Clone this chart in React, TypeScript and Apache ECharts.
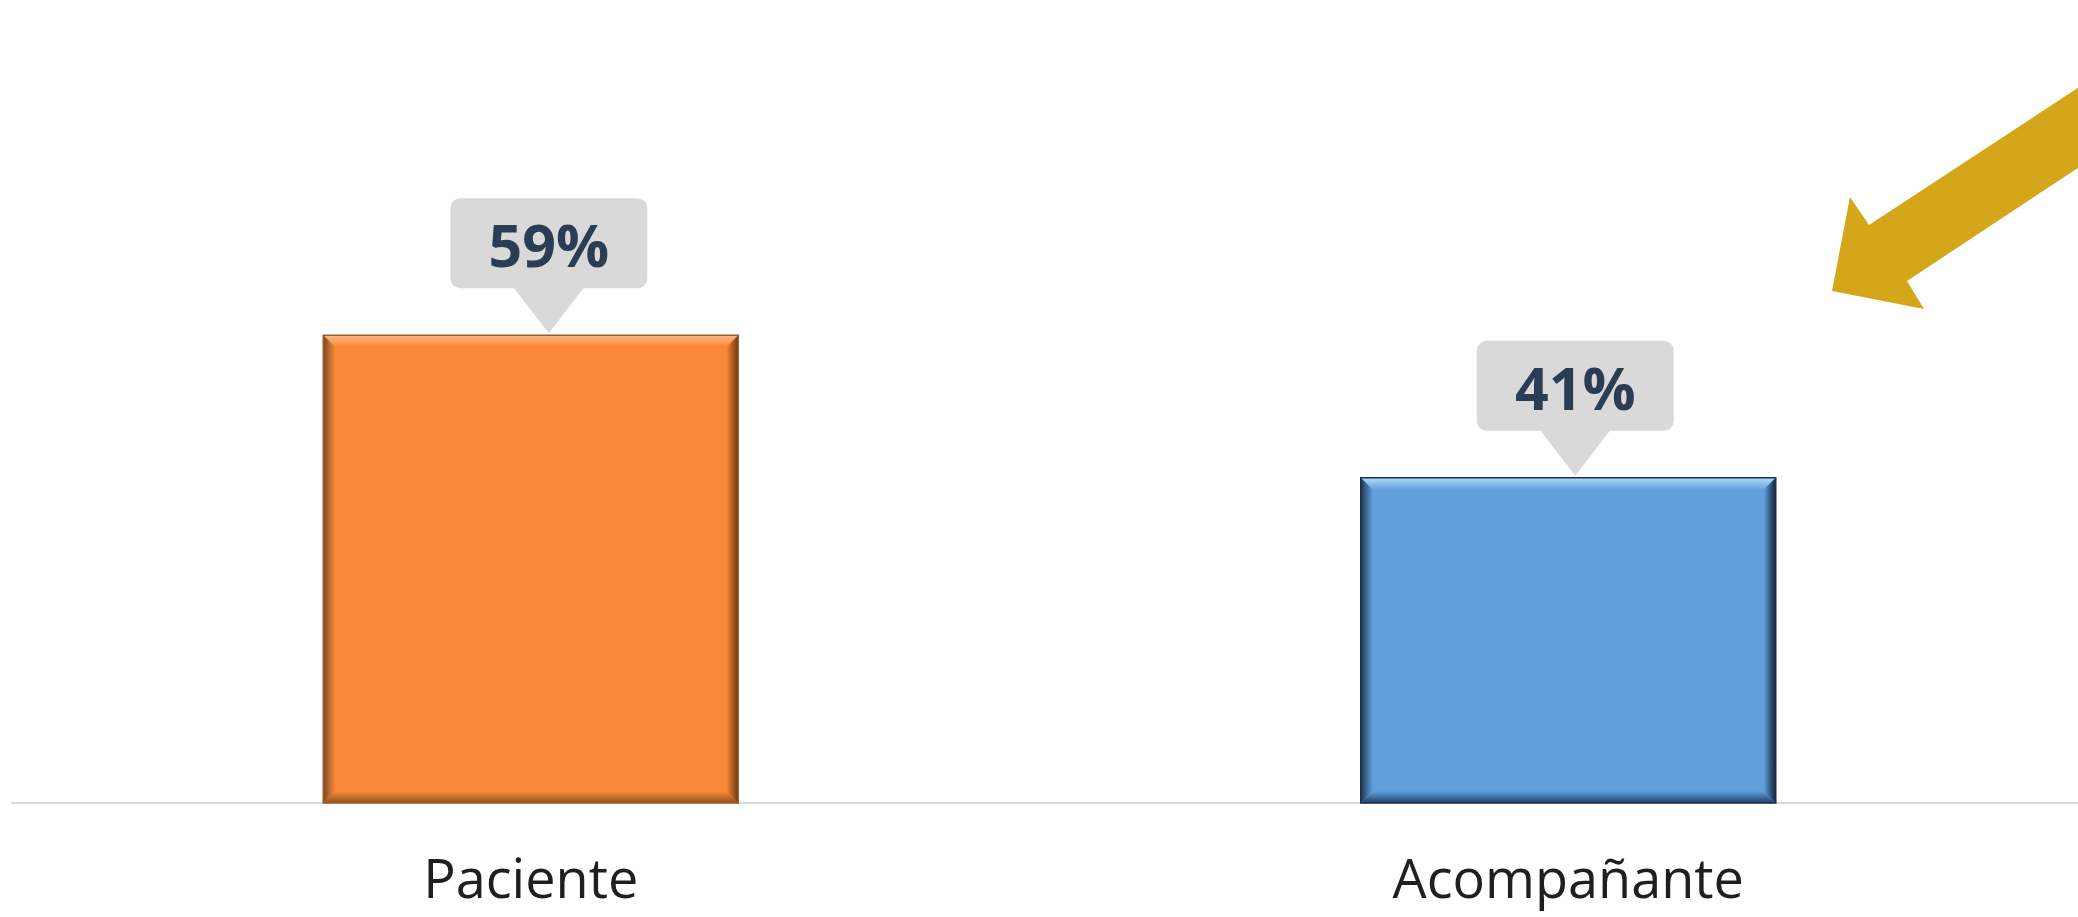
import React, { useEffect, useRef } from "react";
import * as echarts from "echarts";

const categories = ["Paciente", "Acompañante"];
const values = [59, 41];
const valueLabels = ["59%", "41%"];

const palettes = [
  { main: "#F98838", light: "#FDB885", left: "#7A4A25", right: "#6A3810", bottom: "#94521C", stroke: "#9A5A2A", off: 18 },
  { main: "#61A0DC", light: "#AEDCFB", left: "#1E3550", right: "#132338", bottom: "#22406A", stroke: "#1B2F48", off: 7 },
];

function lg(x1: number, y1: number, x2: number, y2: number, c1: string, c2: string) {
  return new echarts.graphic.LinearGradient(x1, y1, x2, y2, [
    { offset: 0, color: c1 },
    { offset: 1, color: c2 },
  ]);
}

export default function App() {
  const ref = useRef<HTMLDivElement>(null);
  useEffect(() => {
    if (!ref.current) return;
    const chart = echarts.init(ref.current, null, { renderer: "svg" });
    const option: any = {
      animation: false,
      backgroundColor: "#ffffff",
      grid: { left: 12, top: 10, width: 2075, height: 793, containLabel: false },
      xAxis: {
        type: "category",
        data: categories,
        axisLine: { show: true, lineStyle: { color: "#d9d9d9", width: 2 } },
        axisTick: { show: false },
        axisLabel: {
          margin: 46,
          fontFamily: "Open Sans",
          fontSize: 54,
          lineHeight: 56,
          color: "#1f1f1f",
        },
      },
      yAxis: { type: "value", min: 0, max: 100, show: false, splitLine: { show: false } },
      series: [
        {
          type: "bar",
          data: values.map((v, i) => ({ value: v, itemStyle: { color: palettes[i].main } })),
          barWidth: 415,
          z: 2,
        },
        {
          type: "custom",
          z: 3,
          data: values.map((v, i) => [i, v]),
          renderItem: (params: any, api: any) => {
            const i = params.dataIndex;
            const p = palettes[i];
            const idx = api.value(0);
            const v = api.value(1);
            const top = api.coord([idx, v]);
            const bot = api.coord([idx, 0]);
            const w = 415;
            const cx = top[0];
            const x0 = cx - w / 2;
            const x1 = cx + w / 2;
            const y0 = top[1];
            const y1 = bot[1];
            const b = 12;
            const off = p.off;
            const children: any[] = [
              {
                type: "polygon",
                shape: { points: [[x0, y0], [x1, y0], [x1 - b, y0 + b], [x0 + b, y0 + b]] },
                style: { fill: lg(0, 0, 0, 1, p.light, p.main) },
              },
              {
                type: "polygon",
                shape: { points: [[x0, y0], [x0 + b, y0 + b], [x0 + b, y1 - b], [x0, y1]] },
                style: { fill: lg(0, 0, 1, 0, p.left, p.main) },
              },
              {
                type: "polygon",
                shape: { points: [[x1, y0], [x1, y1], [x1 - b, y1 - b], [x1 - b, y0 + b]] },
                style: { fill: lg(1, 0, 0, 0, p.right, p.main) },
              },
              {
                type: "polygon",
                shape: { points: [[x0, y1], [x0 + b, y1 - b], [x1 - b, y1 - b], [x1, y1]] },
                style: { fill: lg(0, 1, 0, 0, p.bottom, p.main) },
              },
              {
                type: "rect",
                shape: { x: x0, y: y0, width: w, height: y1 - y0 },
                style: { fill: "none", stroke: p.stroke, lineWidth: 1.5 },
              },
              {
                type: "rect",
                shape: { x: cx + off - 98.5, y: y0 - 137, width: 197, height: 90, r: 10 },
                style: { fill: "#D9D9D9" },
              },
              {
                type: "polygon",
                shape: { points: [[cx + off - 35, y0 - 47.5], [cx + off + 35, y0 - 47.5], [cx + off, y0 - 2]] },
                style: { fill: "#D9D9D9" },
              },
              {
                type: "text",
                x: cx + off,
                y: y0 - 91,
                style: {
                  text: valueLabels[i],
                  fill: "#2B3D55",
                  font: 'bold 59px "Open Sans"',
                  align: "center",
                  verticalAlign: "middle",
                },
              },
            ];
            return { type: "group", children };
          },
        },
      ],
      graphic: [
        {
          type: "polygon",
          shape: {
            points: [
              [2090, 80],
              [1869, 225],
              [1850, 197],
              [1832, 291],
              [1924, 309],
              [1907, 281],
              [2090, 160],
            ],
          },
          style: { fill: "#D4A619" },
        },
      ],
    };
    chart.setOption(option);
    return () => chart.dispose();
  }, []);
  return (
    <div
      style={{
        position: "absolute",
        left: 0,
        top: 0,
        width: "2078px",
        height: "917px",
        overflow: "hidden",
        background: "#ffffff",
      }}
    >
      <div ref={ref} style={{ width: "2110px", height: "917px" }} />
    </div>
  );
}
